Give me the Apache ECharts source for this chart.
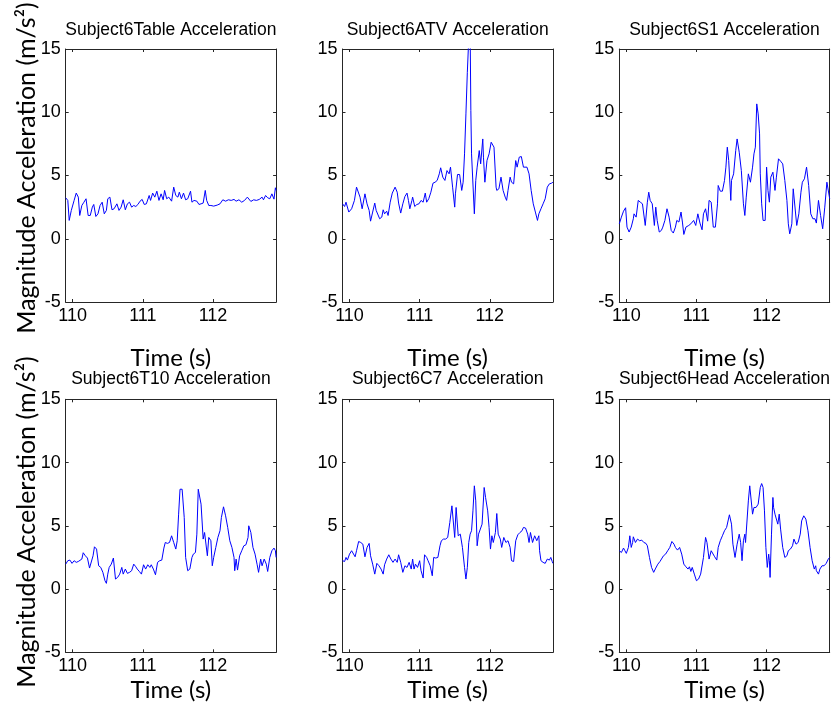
<!DOCTYPE html>
<html>
<head>
<meta charset="utf-8">
<script src="https://cdn.jsdelivr.net/npm/echarts@6/dist/echarts.min.js"></script>
<style>
  html, body { margin: 0; padding: 0; background: #ffffff; }
  #chart { width: 832px; height: 711px; }
</style>
</head>
<body>
<div id="chart"></div>
<script>
// Panel titles, in reading order (row by row)
const panelTitles = [
  'Subject6Table Acceleration', 'Subject6ATV Acceleration', 'Subject6S1 Acceleration',
  'Subject6T10 Acceleration', 'Subject6C7 Acceleration', 'Subject6Head Acceleration'
];
const timeTicks = [110, 111, 112];
const timeRange = [109.9, 112.9];
const accRange = [-5, 15];
const accStep = 5;
const xAxisTitle = 'Time (s)';
const yAxisTitle = 'Magnitude Acceleration (m/s²)';

// [time (s), acceleration magnitude (m/s²)]
const tableAcc = [[109.90,3.24],[109.93,3.03],[109.95,1.45],[109.98,2.24],[110.02,3.03],[110.05,3.61],[110.08,3.29],[110.10,1.84],[110.13,2.63],[110.16,2.89],[110.19,3.16],[110.22,1.84],[110.25,1.84],[110.28,2.50],[110.30,2.71],[110.33,1.76],[110.36,1.97],[110.39,2.63],[110.42,2.89],[110.45,1.97],[110.48,2.24],[110.50,3.16],[110.53,3.29],[110.56,2.29],[110.59,2.37],[110.63,2.76],[110.66,2.24],[110.69,2.50],[110.72,3.08],[110.75,2.29],[110.78,2.76],[110.81,2.89],[110.84,2.50],[110.87,2.63],[110.90,2.55],[110.93,2.71],[110.96,2.97],[110.99,3.11],[111.02,2.71],[111.05,2.76],[111.09,3.42],[111.11,3.03],[111.14,3.61],[111.17,3.29],[111.20,3.76],[111.23,3.03],[111.26,3.55],[111.29,3.08],[111.31,3.82],[111.34,3.16],[111.37,3.29],[111.41,2.97],[111.44,4.08],[111.47,3.42],[111.50,3.29],[111.52,3.68],[111.55,3.16],[111.58,3.61],[111.61,3.08],[111.64,3.16],[111.68,3.76],[111.70,2.89],[111.73,3.03],[111.77,2.97],[111.80,2.71],[111.83,2.76],[111.86,2.82],[111.89,3.82],[111.91,3.03],[111.94,2.63],[111.97,2.63],[112.01,2.58],[112.06,2.66],[112.10,2.76],[112.14,3.08],[112.18,2.97],[112.22,3.08],[112.26,3.03],[112.30,3.11],[112.33,2.97],[112.37,3.08],[112.41,2.89],[112.45,3.03],[112.49,3.29],[112.51,3.42],[112.54,2.95],[112.58,3.08],[112.62,3.03],[112.66,3.11],[112.70,3.29],[112.72,3.08],[112.75,3.42],[112.78,3.24],[112.81,3.16],[112.84,3.55],[112.87,3.13],[112.89,4.03],[112.90,3.82]];

const atvAcc = [[109.90,2.76],[109.93,2.55],[109.95,2.89],[109.99,2.11],[110.03,2.37],[110.07,3.03],[110.10,4.08],[110.12,4.21],[110.15,3.29],[110.18,2.37],[110.20,2.29],[110.22,3.55],[110.25,2.76],[110.28,2.24],[110.30,1.39],[110.33,2.11],[110.36,2.82],[110.38,2.24],[110.40,2.37],[110.43,1.58],[110.46,1.71],[110.48,2.29],[110.50,1.97],[110.53,2.18],[110.55,1.84],[110.58,2.89],[110.61,3.61],[110.65,4.08],[110.68,3.68],[110.70,2.82],[110.73,2.03],[110.76,2.76],[110.79,3.34],[110.82,3.61],[110.84,3.03],[110.86,2.37],[110.89,3.03],[110.90,3.29],[110.93,2.55],[110.96,2.71],[110.99,2.76],[111.02,3.03],[111.05,2.89],[111.08,3.61],[111.10,2.89],[111.13,3.16],[111.16,3.68],[111.19,4.39],[111.22,4.47],[111.25,4.61],[111.28,5.13],[111.30,5.61],[111.33,4.87],[111.36,4.61],[111.39,5.39],[111.42,5.13],[111.44,5.66],[111.47,4.08],[111.50,2.50],[111.51,3.55],[111.54,5.08],[111.57,5.08],[111.60,3.82],[111.62,4.47],[111.64,6.71],[111.66,9.87],[111.68,13.16],[111.70,15.8],[111.71,17.0],[111.72,16.5],[111.73,10.13],[111.74,6.71],[111.76,6.84],[111.78,1.97],[111.80,4.61],[111.82,5.66],[111.85,6.97],[111.87,5.92],[111.90,7.89],[111.91,6.45],[111.93,4.47],[111.96,6.18],[111.99,6.71],[112.02,7.63],[112.04,7.76],[112.06,7.24],[112.09,4.08],[112.10,3.82],[112.13,3.95],[112.16,4.87],[112.19,3.82],[112.22,3.29],[112.24,3.03],[112.26,3.82],[112.29,4.87],[112.31,4.47],[112.34,4.34],[112.37,6.18],[112.39,5.66],[112.42,6.45],[112.45,6.50],[112.48,5.66],[112.50,5.79],[112.53,5.66],[112.56,5.13],[112.59,3.82],[112.62,2.76],[112.65,2.11],[112.68,1.45],[112.70,1.97],[112.73,2.37],[112.76,2.76],[112.79,3.16],[112.82,4.08],[112.85,4.34],[112.88,4.39],[112.90,4.47]];

const s1Acc = [[109.90,1.18],[109.93,1.71],[109.96,2.18],[109.99,2.45],[110.01,0.92],[110.04,0.53],[110.07,0.92],[110.10,1.58],[110.11,1.97],[110.14,1.71],[110.17,3.03],[110.20,2.89],[110.23,2.76],[110.27,1.05],[110.30,2.89],[110.32,3.68],[110.34,3.03],[110.37,2.76],[110.40,1.05],[110.42,2.50],[110.44,1.45],[110.47,0.53],[110.50,0.66],[110.52,0.92],[110.55,1.45],[110.58,2.37],[110.61,1.71],[110.64,0.66],[110.67,0.45],[110.70,0.92],[110.72,1.45],[110.75,1.32],[110.78,2.11],[110.80,1.32],[110.82,0.34],[110.85,0.92],[110.89,1.05],[110.92,1.18],[110.96,1.45],[110.99,1.05],[111.02,1.97],[111.05,1.24],[111.08,0.71],[111.10,1.97],[111.13,2.37],[111.16,1.39],[111.18,3.03],[111.21,2.89],[111.24,0.92],[111.27,0.92],[111.30,2.76],[111.31,4.21],[111.34,3.76],[111.37,3.76],[111.40,4.61],[111.42,5.66],[111.44,7.24],[111.46,6.18],[111.49,3.03],[111.50,4.61],[111.53,5.13],[111.56,6.97],[111.58,7.89],[111.61,6.84],[111.64,5.39],[111.67,2.76],[111.69,1.84],[111.71,3.29],[111.74,5.13],[111.77,4.47],[111.80,5.66],[111.82,6.71],[111.84,7.24],[111.86,10.66],[111.88,9.87],[111.90,8.29],[111.91,5.13],[111.93,2.76],[111.95,1.45],[111.98,1.45],[112.00,5.66],[112.02,3.82],[112.04,2.89],[112.06,4.87],[112.09,5.26],[112.12,3.82],[112.14,4.87],[112.17,6.32],[112.20,6.13],[112.23,5.92],[112.26,4.61],[112.29,3.03],[112.31,1.18],[112.33,0.39],[112.36,1.18],[112.38,3.95],[112.40,3.82],[112.43,1.05],[112.46,1.97],[112.49,3.68],[112.51,4.47],[112.54,4.74],[112.57,5.66],[112.60,4.21],[112.63,1.97],[112.66,1.58],[112.69,1.58],[112.71,1.24],[112.74,3.03],[112.77,1.84],[112.80,0.79],[112.83,2.50],[112.86,4.47],[112.88,4.34],[112.90,3.16]];

const t10Acc = [[109.90,1.97],[109.93,2.24],[109.96,2.29],[109.99,2.03],[110.02,2.24],[110.05,2.11],[110.08,2.18],[110.10,2.08],[110.13,2.37],[110.15,2.87],[110.18,2.63],[110.21,2.45],[110.24,1.66],[110.26,1.58],[110.29,2.63],[110.31,3.34],[110.34,3.16],[110.37,1.84],[110.40,1.71],[110.43,1.32],[110.46,0.66],[110.48,0.45],[110.50,1.18],[110.52,1.71],[110.55,1.97],[110.58,2.45],[110.61,0.79],[110.64,0.92],[110.67,1.18],[110.70,1.71],[110.72,1.18],[110.75,1.58],[110.78,1.24],[110.81,1.32],[110.84,1.45],[110.87,1.97],[110.90,1.76],[110.92,1.58],[110.95,1.39],[110.98,1.18],[111.01,1.92],[111.04,1.58],[111.07,1.92],[111.10,1.71],[111.12,1.92],[111.15,1.58],[111.18,1.13],[111.21,2.11],[111.24,2.24],[111.27,2.29],[111.30,3.24],[111.32,3.68],[111.35,3.61],[111.38,3.68],[111.41,4.21],[111.44,3.68],[111.47,3.16],[111.49,3.82],[111.51,5.92],[111.53,7.89],[111.56,7.89],[111.59,5.66],[111.61,2.50],[111.64,1.45],[111.67,1.58],[111.70,2.50],[111.72,2.76],[111.75,2.89],[111.77,4.34],[111.79,7.89],[111.81,8.03],[111.83,6.71],[111.86,3.95],[111.88,4.47],[111.90,4.34],[111.92,2.63],[111.94,4.08],[111.97,3.82],[111.99,1.84],[112.01,2.50],[112.04,3.29],[112.07,4.08],[112.10,4.61],[112.12,5.66],[112.15,6.50],[112.18,5.79],[112.21,4.87],[112.24,3.82],[112.27,3.29],[112.30,2.50],[112.31,1.45],[112.33,2.37],[112.35,1.50],[112.38,2.63],[112.41,3.03],[112.44,3.42],[112.47,3.50],[112.50,4.08],[112.51,5.00],[112.54,4.47],[112.57,3.29],[112.60,2.76],[112.63,1.92],[112.65,1.32],[112.68,2.37],[112.70,1.84],[112.73,2.37],[112.76,1.97],[112.78,1.39],[112.81,2.50],[112.84,3.03],[112.87,3.24],[112.89,3.03],[112.90,2.50]];

const c7Acc = [[109.90,2.24],[109.93,2.18],[109.95,2.50],[109.97,2.29],[110.00,2.76],[110.03,3.03],[110.05,2.89],[110.08,2.55],[110.10,3.03],[110.13,3.76],[110.16,3.68],[110.19,3.55],[110.22,2.55],[110.25,3.29],[110.28,3.61],[110.30,2.63],[110.33,1.97],[110.36,1.18],[110.39,2.03],[110.42,1.84],[110.45,1.58],[110.48,1.18],[110.50,1.92],[110.53,2.37],[110.56,2.71],[110.59,2.37],[110.62,2.11],[110.65,2.37],[110.68,2.11],[110.70,2.71],[110.73,2.11],[110.76,1.32],[110.79,1.84],[110.82,1.71],[110.85,2.11],[110.88,1.58],[110.90,2.37],[110.92,1.58],[110.94,1.97],[110.97,1.71],[111.00,2.24],[111.02,1.45],[111.05,0.87],[111.07,2.71],[111.10,2.50],[111.12,2.24],[111.15,1.84],[111.18,1.05],[111.20,2.50],[111.23,2.45],[111.26,2.50],[111.29,3.42],[111.31,3.82],[111.34,3.95],[111.37,3.95],[111.40,4.08],[111.43,5.26],[111.46,6.58],[111.48,6.58],[111.50,4.08],[111.52,6.45],[111.55,4.21],[111.58,4.34],[111.61,3.29],[111.64,1.71],[111.66,0.79],[111.68,1.71],[111.70,3.68],[111.72,4.34],[111.74,4.61],[111.76,6.18],[111.78,8.16],[111.80,6.97],[111.82,3.42],[111.84,4.34],[111.86,4.47],[111.89,5.13],[111.92,8.03],[111.94,7.24],[111.97,6.18],[111.99,4.87],[112.01,3.16],[112.03,4.21],[112.05,3.68],[112.08,4.47],[112.10,5.97],[112.12,4.34],[112.15,3.95],[112.17,3.29],[112.20,4.08],[112.23,3.68],[112.26,3.82],[112.29,3.29],[112.31,2.24],[112.34,2.18],[112.37,3.82],[112.40,4.29],[112.43,4.47],[112.46,4.61],[112.48,4.87],[112.51,4.82],[112.54,4.34],[112.56,3.68],[112.58,4.47],[112.61,3.68],[112.64,4.21],[112.67,3.82],[112.70,4.21],[112.71,3.03],[112.73,2.24],[112.76,2.11],[112.79,2.03],[112.82,2.37],[112.85,2.29],[112.87,2.50],[112.89,2.18],[112.90,2.03]];

const headAcc = [[109.90,3.03],[109.93,2.89],[109.96,3.24],[109.98,3.03],[110.00,2.82],[110.03,3.29],[110.05,4.21],[110.07,3.29],[110.09,3.68],[110.10,4.13],[110.13,3.68],[110.16,3.95],[110.19,3.82],[110.22,3.87],[110.25,3.68],[110.28,3.61],[110.30,3.42],[110.33,2.50],[110.36,1.71],[110.39,1.32],[110.42,1.66],[110.45,1.97],[110.48,2.18],[110.50,2.29],[110.53,2.63],[110.56,2.76],[110.59,3.03],[110.62,3.29],[110.65,3.76],[110.68,3.55],[110.70,3.29],[110.73,3.08],[110.76,3.29],[110.79,2.76],[110.82,1.97],[110.85,1.76],[110.88,1.58],[110.90,1.76],[110.92,1.39],[110.94,1.71],[110.97,1.18],[111.00,0.66],[111.03,0.79],[111.06,1.18],[111.08,1.05],[111.10,2.50],[111.13,4.08],[111.15,3.68],[111.18,2.37],[111.21,3.03],[111.23,2.89],[111.26,2.55],[111.29,2.29],[111.31,3.29],[111.34,3.82],[111.37,4.21],[111.40,4.61],[111.43,4.87],[111.45,4.87],[111.47,5.87],[111.50,5.13],[111.52,3.55],[111.55,2.50],[111.58,3.55],[111.61,4.34],[111.63,3.68],[111.65,2.24],[111.67,3.82],[111.69,4.34],[111.70,3.68],[111.72,3.82],[111.74,6.97],[111.76,8.16],[111.78,8.16],[111.80,5.92],[111.82,6.45],[111.85,6.45],[111.88,6.71],[111.90,6.66],[111.91,8.03],[111.93,8.34],[111.95,8.03],[111.97,6.18],[111.99,3.29],[112.01,1.71],[112.03,2.76],[112.04,2.24],[112.05,0.92],[112.07,4.34],[112.09,7.24],[112.10,6.45],[112.12,5.92],[112.14,5.79],[112.16,5.13],[112.18,5.92],[112.20,4.74],[112.23,3.29],[112.26,2.50],[112.29,2.63],[112.31,3.03],[112.34,3.16],[112.37,3.42],[112.39,3.95],[112.42,3.55],[112.45,3.68],[112.48,4.34],[112.50,5.39],[112.53,5.79],[112.56,5.53],[112.59,4.61],[112.62,3.29],[112.65,2.24],[112.68,1.58],[112.70,1.84],[112.71,1.45],[112.74,1.18],[112.76,1.58],[112.79,1.84],[112.82,1.84],[112.85,2.03],[112.88,2.37],[112.90,2.50]];

const panelSeries = [tableAcc, atvAcc, s1Acc, t10Acc, c7Acc, headAcc];

// ---- layout (pixels) ----
const colLeft = [65.7, 342.5, 619.3];
const rowTop = [49, 399.3];
const plotW = 210.4;
const plotH = 253;
const xTitleY = [358, 690];
const yTitleY = [168, 522];

const axisColor = '#262626';
const tickFont = '"Liberation Sans", Arial, sans-serif';
const labelFont = 'Lato, "Open Sans", sans-serif';

const grids = [], xAxes = [], yAxes = [], series = [], titles = [], graphics = [];

panelSeries.forEach((data, i) => {
  const r = Math.floor(i / 3), c = i % 3;
  const left = colLeft[c], top = rowTop[r];
  grids.push({ left: left, top: top, width: plotW, height: plotH, containLabel: false });

  const line = { show: true, onZero: false, lineStyle: { color: axisColor, width: 1 } };
  const xCommon = { gridIndex: i, type: 'value', min: timeRange[0], max: timeRange[1],
    splitLine: { show: false }, axisLine: line };
  xAxes.push(Object.assign({}, xCommon, {
    position: 'bottom',
    axisTick: { show: true, inside: true, length: 3, customValues: timeTicks, lineStyle: { color: axisColor } },
    axisLabel: { show: true, customValues: timeTicks, margin: 5, fontSize: 18, color: '#000',
      fontFamily: tickFont }
  }));
  xAxes.push(Object.assign({}, xCommon, {
    position: 'top',
    axisTick: { show: true, inside: true, length: 3, customValues: timeTicks, lineStyle: { color: axisColor } },
    axisLabel: { show: false }
  }));
  const yCommon = { gridIndex: i, type: 'value', min: accRange[0], max: accRange[1], interval: accStep,
    splitLine: { show: false }, axisLine: line,
    axisTick: { show: true, inside: true, length: 3, lineStyle: { color: axisColor } } };
  yAxes.push(Object.assign({}, yCommon, {
    position: 'left',
    axisLabel: { show: true, margin: 5, fontSize: 18, color: '#000', fontFamily: tickFont }
  }));
  yAxes.push(Object.assign({}, yCommon, { position: 'right', axisLabel: { show: false } }));

  series.push({
    type: 'line', xAxisIndex: 2 * i, yAxisIndex: 2 * i, data: data,
    showSymbol: false, symbol: 'none', clip: true, animation: false,
    lineStyle: { color: '#0000ff', width: 1 }
  });

  titles.push({
    text: panelTitles[i], left: left + plotW / 2, top: r === 0 ? 21 : 370.5, textAlign: 'center', padding: 0,
    textStyle: { fontSize: 17.5, fontWeight: 'normal', color: '#000', fontFamily: tickFont }
  });

  graphics.push({
    type: 'text', x: left + plotW / 2, y: xTitleY[r], silent: true,
    style: { text: xAxisTitle, font: '24px ' + labelFont, fill: '#000',
      align: 'center', verticalAlign: 'middle', textAlign: 'center', textVerticalAlign: 'middle' }
  });
});

[0, 1].forEach(r => {
  graphics.push({
    type: 'text', x: 27, y: yTitleY[r], rotation: Math.PI / 2, silent: true,
    style: { text: yAxisTitle, font: '25px ' + labelFont, fill: '#000',
      align: 'center', verticalAlign: 'middle', textAlign: 'center', textVerticalAlign: 'middle' }
  });
});

const chart = echarts.init(document.getElementById('chart'), null, { renderer: 'canvas' });
chart.setOption({
  backgroundColor: '#ffffff',
  animation: false,
  title: titles,
  grid: grids,
  xAxis: xAxes,
  yAxis: yAxes,
  series: series,
  graphic: graphics
});
</script>
</body>
</html>
